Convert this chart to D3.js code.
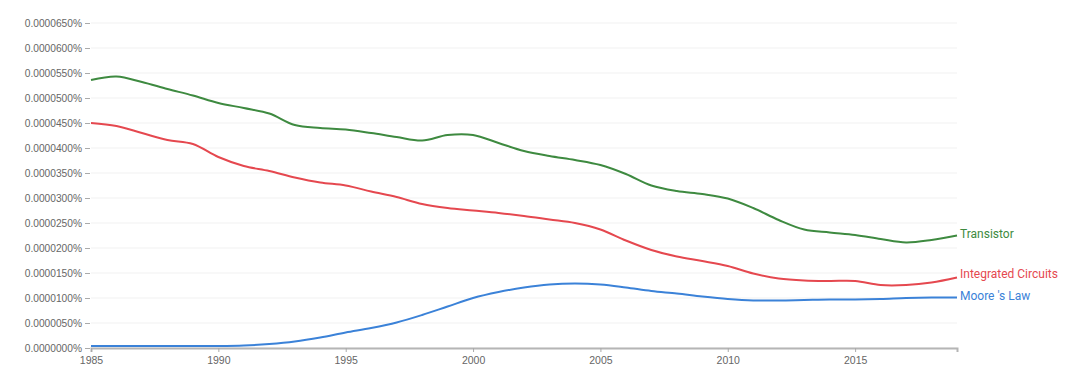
<!DOCTYPE html>
<html>
<head>
<meta charset="utf-8">
<script src="https://cdn.jsdelivr.net/npm/d3@7"></script>
<style>
  body { margin: 0; background: #fff; }
  svg { font-family: Roboto, "Open Sans", sans-serif; }
</style>
</head>
<body>
<div id="chart"></div>
<script>
// values in percent
const years = d3.range(1985, 2020);
const transistor = [0.0000536, 0.0000543, 0.0000532, 0.0000518, 0.0000505, 0.0000490, 0.0000480, 0.0000469, 0.0000446, 0.0000440,
  0.0000437, 0.0000430, 0.0000422, 0.0000415, 0.0000426, 0.0000426, 0.0000410, 0.0000394, 0.0000384, 0.0000376,
  0.0000366, 0.0000348, 0.0000325, 0.0000314, 0.0000308, 0.0000299, 0.0000280, 0.0000256, 0.0000237, 0.0000231,
  0.0000226, 0.0000218, 0.0000211, 0.0000216, 0.0000225];
const circuits = [0.0000450, 0.0000444, 0.0000430, 0.0000416, 0.0000408, 0.0000382, 0.0000364, 0.0000354, 0.0000341, 0.0000331,
  0.0000325, 0.0000313, 0.0000302, 0.0000288, 0.0000280, 0.0000275, 0.0000270, 0.0000264, 0.0000257, 0.0000250,
  0.0000237, 0.0000215, 0.0000196, 0.0000183, 0.0000174, 0.0000164, 0.0000149, 0.0000139, 0.0000135, 0.0000134,
  0.0000134, 0.0000126, 0.0000126, 0.0000131, 0.0000141];
const moore = [0.0000004, 0.0000004, 0.0000004, 0.0000004, 0.0000004, 0.0000004, 0.0000005, 0.0000008, 0.0000013, 0.0000021,
  0.0000031, 0.0000040, 0.0000051, 0.0000066, 0.0000083, 0.0000100, 0.0000112, 0.0000121, 0.0000127, 0.0000129,
  0.0000127, 0.0000121, 0.0000114, 0.0000109, 0.0000103, 0.0000098, 0.0000095, 0.0000095, 0.0000096, 0.0000097,
  0.0000097, 0.0000098, 0.0000100, 0.0000101, 0.0000101];
const seriesNames = ["Transistor", "Integrated Circuits", "Moore 's Law"];
const seriesColors = ["#3e8a40", "#e5484f", "#3b82d8"];
const yTicks = d3.range(0, 14).map(i => i * 0.000005);
const xTicks = [1985, 1990, 1995, 2000, 2005, 2010, 2015];

const series = [transistor, circuits, moore].map((vals, i) => ({
  name: seriesNames[i],
  color: seriesColors[i],
  values: vals.map((v, j) => ({ year: years[j], v: v }))
}));

const width = 1080, height = 377;
const margin = { top: 23, right: 123, bottom: 29, left: 91 };

const svg = d3.select("#chart").append("svg")
  .attr("width", width)
  .attr("height", height);

const x = d3.scaleLinear()
  .domain([1985, 2019])
  .range([margin.left, width - margin.right]);
const y = d3.scaleLinear()
  .domain([0, 0.000065])
  .range([height - margin.bottom, margin.top]);

// grid lines
svg.append("g")
  .selectAll("line")
  .data(yTicks)
  .join("line")
  .attr("x1", x(1985))
  .attr("x2", x(2019))
  .attr("y1", d => y(d))
  .attr("y2", d => y(d))
  .attr("stroke", "#f1f1f1")
  .attr("stroke-width", 1);

// y axis
const yAxis = svg.append("g")
  .attr("transform", `translate(${margin.left - 1},0)`)
  .call(d3.axisLeft(y).tickValues(yTicks).tickSize(5).tickPadding(3)
    .tickFormat(d => d3.format(".7f")(d) + "%"));
yAxis.select(".domain").remove();
yAxis.selectAll(".tick line").attr("stroke", "#aaa");
yAxis.selectAll(".tick text")
  .attr("fill", "#666")
  .style("font-size", "10.2px")
  .style("font-weight", "500");

// x axis
const xAxis = svg.append("g")
  .attr("transform", `translate(0,${y(0)})`)
  .call(d3.axisBottom(x).tickValues(xTicks).tickSize(4).tickPadding(5)
    .tickFormat(d3.format("d")));
xAxis.select(".domain").attr("stroke", "#b5b5b5").attr("stroke-width", 2);
xAxis.selectAll(".tick line").attr("stroke", "#aaa");
xAxis.selectAll(".tick text")
  .attr("fill", "#666")
  .style("font-size", "10.5px")
  .style("font-weight", "500");

const line = d3.line()
  .x(d => x(d.year))
  .y(d => y(d.v))
  .curve(d3.curveCatmullRom.alpha(0.5));

svg.append("g")
  .selectAll("path")
  .data(series)
  .join("path")
  .attr("d", d => line(d.values))
  .attr("fill", "none")
  .attr("stroke", d => d.color)
  .attr("stroke-width", 2);

// end labels, pushed apart a little so they don't collide
const labels = series.map(s => ({ s: s, ly: y(s.values[s.values.length - 1].v) }));
labels.sort((a, b) => a.ly - b.ly);
for (let i = labels.length - 2; i >= 0; i--) {
  if (labels[i + 1].ly - labels[i].ly < 22) labels[i].ly = labels[i + 1].ly - 22;
}

svg.append("g")
  .selectAll("text")
  .data(labels)
  .join("text")
  .attr("x", x(2019) + 3)
  .attr("y", d => d.ly - 2)
  .attr("dy", "0.35em")
  .attr("fill", d => d.s.color)
  .style("font-size", "12px")
  .text(d => d.s.name);
</script>
</body>
</html>
